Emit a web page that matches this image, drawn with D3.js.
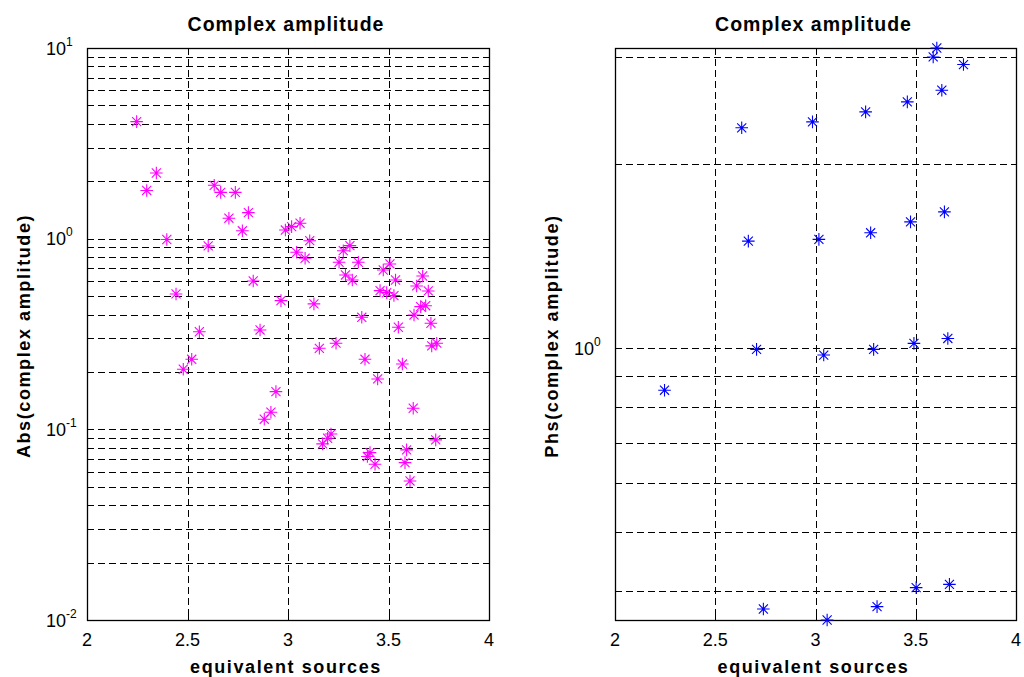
<!DOCTYPE html>
<html>
<head>
<meta charset="utf-8">
<script src="https://cdn.jsdelivr.net/npm/d3@7"></script>
<style>
  html, body { margin: 0; padding: 0; background: #fff; }
  svg { display: block; }
  text { font-family: "Liberation Sans", Arial, Helvetica, sans-serif; fill: #000; }
</style>
</head>
<body>
<svg id="fig" width="1024" height="677"></svg>
<script>
// Source positions shared by both panels
const xTicks = [2, 2.5, 3, 3.5, 4];

// Magnitude of each complex amplitude
const ampX = [2.247, 2.297, 2.345, 2.397, 2.443, 2.603, 2.633, 2.665, 2.738, 2.706,
  2.803, 2.773, 2.827, 2.965, 2.987, 3.018, 3.060, 3.108, 3.043, 3.085,
  3.129, 3.254, 3.275, 3.308, 3.350, 3.286, 3.320, 3.367, 3.474, 3.507,
  3.535, 3.458, 3.491, 3.527, 3.549, 3.640, 3.670, 3.698, 3.627, 3.660,
  3.685, 3.711, 2.559, 2.861, 3.156, 3.239, 3.715, 3.740, 2.521, 2.479,
  3.383, 3.569, 3.446, 2.940, 2.915, 2.882, 3.623, 3.172, 3.197, 3.214,
  3.735, 3.408, 3.395, 3.433, 3.590, 3.582, 3.607];
const ampY = [4.11, 1.79, 2.21, 0.99, 0.513, 0.916, 1.905, 1.75, 1.75, 1.28,
  1.369, 1.10, 0.60, 0.473, 1.11, 1.156, 1.205, 0.976, 0.848, 0.789,
  0.455, 0.752, 0.865, 0.919, 0.752, 0.645, 0.607, 0.387, 0.685, 0.737,
  0.607, 0.534, 0.521, 0.503, 0.343, 0.565, 0.637, 0.532, 0.398, 0.44,
  0.445, 0.36, 0.325, 0.332, 0.266, 0.283, 0.274, 0.283, 0.233, 0.2066,
  0.233, 0.22, 0.1838, 0.1576, 0.123, 0.113, 0.129, 0.0839, 0.0898, 0.0946,
  0.088, 0.0755, 0.072, 0.0656, 0.078, 0.0669, 0.0536];

// Phase of each complex amplitude
const phsX = [3.605, 3.587, 3.738, 3.630, 3.458, 3.250, 2.985, 2.632, 3.643, 3.474,
  3.275, 3.017, 2.665, 3.660, 3.491, 3.290, 3.041, 2.706, 2.247, 3.502,
  3.668, 3.307, 2.740, 3.058];
const phsY = [3.103, 3.0, 2.915, 2.646, 2.532, 2.438, 2.348, 2.296, 1.672, 1.61,
  1.545, 1.507, 1.497, 1.037, 1.018, 0.995, 0.974, 0.995, 0.853, 0.405,
  0.41, 0.377, 0.3736, 0.3584];

// Log-axis tick values
const ampYTicks = [];
[0.01, 0.1, 1].forEach(d => { for (let k = 1; k <= 9; k++) ampYTicks.push(+(d * k).toPrecision(3)); });
ampYTicks.push(10);
const ampYLabels = [0.01, 0.1, 1, 10];
const phsYTicks = [0.4, 0.5, 0.6, 0.7, 0.8, 0.9, 1, 2, 3];
const phsYLabels = [1];

const svg = d3.select("#fig");
svg.append("rect").attr("width", 1024).attr("height", 677).attr("fill", "#fff");

function starPath(r) {
  const d = r * 0.72;
  return `M${-r},0H${r}M0,${-r}V${r}M${-d},${-d}L${d},${d}M${-d},${d}L${d},${-d}`;
}

function panel(opts) {
  const { left, right, top, bottom, x, y, yTicks, yLabels, xs, ys, color, ylabel } = opts;
  const g = svg.append("g");
  const w = right - left, h = bottom - top;

  // dashed grid
  const grid = g.append("g").attr("stroke", "#000").attr("stroke-width", 1)
    .attr("stroke-dasharray", "7,4").attr("fill", "none");
  grid.selectAll("line.h").data(yTicks.filter(v => y(v) > top + 0.5 && y(v) < bottom - 0.5))
    .join("line").attr("class", "h")
    .attr("x1", left).attr("x2", right)
    .attr("y1", d => Math.round(y(d)) + 0.5).attr("y2", d => Math.round(y(d)) + 0.5);
  grid.selectAll("line.v").data(xTicks.filter(v => x(v) > left + 1 && x(v) < right - 1))
    .join("line").attr("class", "v")
    .attr("x1", d => Math.round(x(d)) + 0.5).attr("x2", d => Math.round(x(d)) + 0.5)
    .attr("y1", top).attr("y2", bottom);

  // inward ticks on all four sides
  const tl = 5;
  const ticks = g.append("g").attr("stroke", "#000").attr("stroke-width", 1);
  yTicks.forEach(v => {
    const yy = Math.round(y(v)) + 0.5;
    ticks.append("line").attr("x1", left).attr("x2", left + tl).attr("y1", yy).attr("y2", yy);
    ticks.append("line").attr("x1", right).attr("x2", right - tl).attr("y1", yy).attr("y2", yy);
  });
  xTicks.forEach(v => {
    const xx = Math.round(x(v)) + 0.5;
    ticks.append("line").attr("x1", xx).attr("x2", xx).attr("y1", bottom).attr("y2", bottom - tl);
    ticks.append("line").attr("x1", xx).attr("x2", xx).attr("y1", top).attr("y2", top + tl);
  });

  // box
  g.append("rect").attr("x", left + 0.5).attr("y", top + 0.5)
    .attr("width", w).attr("height", h)
    .attr("fill", "none").attr("stroke", "#000").attr("stroke-width", 1.3);

  // x tick labels
  g.selectAll("text.xt").data(xTicks).join("text").attr("class", "xt")
    .attr("x", d => x(d)).attr("y", bottom + 26)
    .attr("text-anchor", "middle").attr("font-size", 18)
    .text(d => d3.format("")(d));

  // y tick labels as powers of ten
  yLabels.forEach(v => {
    const t = g.append("text").attr("x", left - 41).attr("y", y(v) + 6.5)
      .attr("font-size", 18);
    t.append("tspan").text("10");
    t.append("tspan").attr("font-size", 12).attr("dy", -9)
      .text(Math.round(Math.log10(v)));
  });

  // title and axis labels
  g.append("text").attr("x", (left + right) / 2 - 2).attr("y", 31)
    .attr("text-anchor", "middle").attr("font-size", 19.5).attr("font-weight", "bold")
    .attr("letter-spacing", 1).text("Complex amplitude");
  g.append("text").attr("x", (left + right) / 2 - 2).attr("y", 673)
    .attr("text-anchor", "middle").attr("font-size", 18).attr("font-weight", "bold")
    .attr("letter-spacing", 1.6).text("equivalent sources");
  g.append("text")
    .attr("transform", `translate(${left - 57},${(top + bottom) / 2 + 2}) rotate(-90)`)
    .attr("text-anchor", "middle").attr("font-size", 18).attr("font-weight", "bold")
    .attr("letter-spacing", 1.6).text(ylabel);

  // star markers
  g.append("g").selectAll("path").data(d3.range(xs.length)).join("path")
    .attr("transform", i => `translate(${x(xs[i])},${y(ys[i])})`)
    .attr("d", starPath(6.3))
    .attr("fill", "none").attr("stroke", color).attr("stroke-width", 1.1);
}

const plotTop = 48, plotBottom = 620;

const xA = d3.scaleLinear().domain([2, 4]).range([87, 489]);
const yA = d3.scaleLog().domain([0.01, 10]).range([plotBottom, plotTop]);
panel({ left: 87, right: 489, top: plotTop, bottom: plotBottom, x: xA, y: yA,
  yTicks: ampYTicks, yLabels: ampYLabels, xs: ampX, ys: ampY,
  color: "#ff00ff", ylabel: "Abs(complex amplitude)" });

const xP = d3.scaleLinear().domain([2, 4]).range([615, 1016]);
const yP = d3.scaleLog().domain(d3.extent(phsY)).range([plotBottom, plotTop]);
panel({ left: 615, right: 1016, top: plotTop, bottom: plotBottom, x: xP, y: yP,
  yTicks: phsYTicks, yLabels: phsYLabels, xs: phsX, ys: phsY,
  color: "#0000ff", ylabel: "Phs(complex amplitude)" });
</script>
</body>
</html>
